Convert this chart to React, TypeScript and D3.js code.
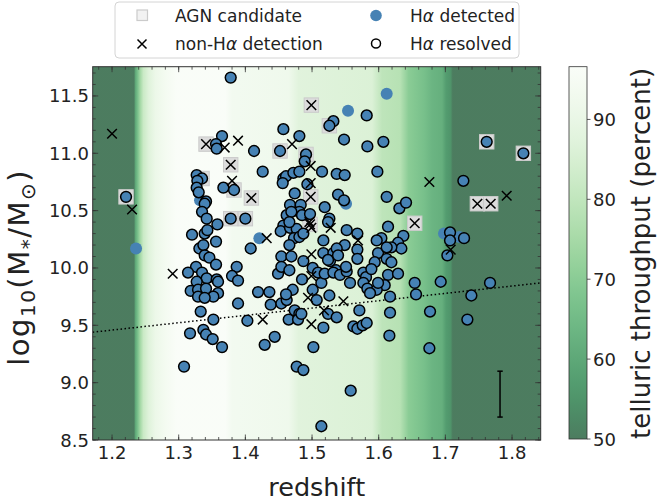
import React from 'react';
import * as d3 from 'd3';

const W = 658;
const H = 503;
const box = { left: 92.7, right: 540.7, top: 66.7, bottom: 440 };
const FONT = 'DejaVu Sans';

// telluric throughput (percent) across the redshift window
const telluricZ = [1.171, 1.233, 1.235, 1.238, 1.242, 1.247, 1.255, 1.265, 1.28, 1.297, 1.37, 1.38, 1.465, 1.48, 1.59, 1.605, 1.632, 1.645, 1.668, 1.68, 1.695, 1.701, 1.708, 1.711, 1.843];
const telluricPct = [45, 47, 60, 66, 74, 82, 87, 91, 94, 96.5, 96.5, 93.5, 92, 87.5, 86, 79.5, 78, 70, 66.5, 63.5, 62, 57, 55, 45, 45];
const cbarTicks = [50, 60, 70, 80, 90];

// H-alpha resolved galaxies: [redshift, log M*]
const resolved: [number, number][] = [
  [1.221, 10.62], [1.378, 11.66], [1.532, 11.28], [1.526, 11.24], [1.457, 11.21], [1.481, 11.15], [1.365, 11.15], [1.356, 11.08],
  [1.357, 11.04], [1.413, 11.02], [1.452, 11.02], [1.491, 10.99], [1.489, 10.93], [1.515, 10.84], [1.537, 10.82], [1.549, 10.81],
  [1.426, 10.84], [1.327, 10.81], [1.335, 10.78], [1.328, 10.76], [1.327, 10.7], [1.33, 10.66], [1.367, 10.7], [1.383, 10.68],
  [1.341, 10.58], [1.339, 10.56], [1.457, 10.78], [1.461, 10.8], [1.472, 10.83], [1.481, 10.84], [1.456, 10.74], [1.493, 10.73],
  [1.474, 10.65], [1.539, 10.64], [1.548, 10.59], [1.467, 10.55], [1.483, 10.55], [1.481, 10.49], [1.519, 10.53], [1.335, 10.49],
  [1.342, 10.43], [1.358, 10.38], [1.378, 10.43], [1.4, 10.43], [1.462, 10.46], [1.469, 10.49], [1.485, 10.46], [1.497, 10.47],
  [1.526, 10.43], [1.524, 10.4], [1.457, 10.37], [1.453, 10.32], [1.467, 10.35], [1.477, 10.34], [1.473, 10.26], [1.481, 10.27],
  [1.32, 10.29], [1.339, 10.3], [1.343, 10.33], [1.356, 10.23], [1.408, 10.17], [1.331, 10.17], [1.337, 10.2], [1.466, 10.2],
  [1.517, 10.24], [1.517, 10.13], [1.532, 10.13], [1.454, 10.1], [1.469, 10.1], [1.339, 10.11], [1.346, 10.09], [1.356, 10.03],
  [1.326, 10.01], [1.314, 9.96], [1.335, 9.96], [1.387, 10.01], [1.38, 9.93], [1.389, 9.89], [1.342, 9.91], [1.357, 9.9],
  [1.359, 9.88], [1.327, 9.88], [1.318, 9.8], [1.329, 9.81], [1.341, 9.82], [1.359, 9.78], [1.352, 9.75], [1.329, 9.75],
  [1.339, 9.74], [1.419, 9.79], [1.436, 9.79], [1.389, 9.69], [1.438, 9.68], [1.333, 9.62], [1.352, 9.55], [1.403, 9.54],
  [1.444, 9.4], [1.317, 9.43], [1.337, 9.46], [1.341, 9.42], [1.351, 9.38], [1.365, 9.31], [1.429, 9.33], [1.308, 9.14],
  [1.454, 9.69], [1.462, 9.72], [1.465, 9.55], [1.474, 9.63], [1.481, 9.6], [1.479, 9.55], [1.484, 9.6], [1.477, 9.14],
  [1.487, 9.11], [1.502, 9.31], [1.517, 9.48], [1.524, 9.6], [1.537, 9.57], [1.507, 9.72], [1.526, 9.76], [1.501, 9.81],
  [1.514, 8.62], [1.449, 9.95], [1.454, 10.01], [1.466, 9.98], [1.487, 10.06], [1.501, 10.0], [1.527, 10.06], [1.536, 9.98],
  [1.485, 9.9], [1.471, 9.81], [1.461, 9.77], [1.514, 9.87], [1.548, 11.12], [1.583, 11.06], [1.466, 10.4], [1.487, 10.3],
  [1.552, 10.33], [1.568, 10.3], [1.549, 10.2], [1.537, 10.17], [1.568, 10.16], [1.568, 10.08], [1.524, 10.07], [1.539, 10.11],
  [1.509, 9.96], [1.519, 9.95], [1.532, 9.96], [1.542, 9.94], [1.552, 9.97], [1.551, 10.01], [1.557, 9.87], [1.577, 9.96],
  [1.581, 9.92], [1.577, 9.87], [1.583, 9.82], [1.571, 9.63], [1.562, 9.49], [1.568, 9.47], [1.576, 9.5], [1.582, 9.52],
  [1.582, 11.33], [1.607, 11.1], [1.598, 10.84], [1.612, 10.62], [1.631, 10.52], [1.641, 10.57], [1.614, 10.36], [1.637, 10.28],
  [1.629, 10.22], [1.634, 10.17], [1.619, 10.18], [1.604, 10.26], [1.597, 10.24], [1.599, 10.13], [1.612, 10.18], [1.594, 10.05],
  [1.589, 9.99], [1.612, 10.08], [1.619, 10.05], [1.614, 9.94], [1.629, 9.95], [1.609, 9.85], [1.597, 9.81], [1.587, 9.78],
  [1.599, 9.87], [1.617, 9.75], [1.654, 9.87], [1.656, 9.77], [1.693, 9.88], [1.677, 9.62], [1.617, 9.61], [1.616, 9.41],
  [1.676, 9.3], [1.762, 11.1], [1.817, 11.0], [1.727, 10.76], [1.707, 10.31], [1.707, 10.24], [1.728, 10.26], [1.703, 10.11],
  [1.767, 9.87], [1.739, 9.76], [1.733, 9.55], [1.558, 8.93],
];

// H-alpha detected but not resolved
const detected: [number, number][] = [
  [1.236, 10.17], [1.332, 10.59], [1.421, 10.26], [1.551, 10.56], [1.612, 11.52], [1.554, 11.37], [1.698, 10.3], [1.721, 10.27],
];

// no H-alpha detection
const nonDetected: [number, number][] = [
  [1.2, 11.17], [1.23, 10.51], [1.499, 11.42], [1.341, 11.08], [1.369, 11.05], [1.389, 11.11], [1.47, 11.08], [1.378, 10.9],
  [1.498, 10.89], [1.38, 10.76], [1.409, 10.61], [1.498, 10.74], [1.498, 10.62], [1.497, 10.38], [1.499, 10.35], [1.496, 10.4],
  [1.528, 10.35], [1.432, 10.26], [1.499, 10.12], [1.291, 9.95], [1.426, 9.55], [1.499, 9.51], [1.518, 9.63], [1.494, 9.74],
  [1.499, 9.93], [1.569, 10.24], [1.547, 9.71], [1.676, 10.75], [1.654, 10.39], [1.792, 10.63], [1.748, 10.56], [1.768, 10.56],
  [1.708, 10.16],
];

// AGN candidates
const agn: [number, number][] = [
  [1.221, 10.62], [1.526, 11.24], [1.452, 11.02], [1.491, 10.99], [1.335, 10.78], [1.383, 10.68], [1.378, 10.43], [1.4, 10.43],
  [1.762, 11.1], [1.817, 11.0], [1.499, 11.42], [1.341, 11.08], [1.378, 10.9], [1.409, 10.61], [1.498, 10.62], [1.497, 10.38],
  [1.654, 10.39], [1.748, 10.56], [1.768, 10.56],
];

// mass completeness line and typical error bar
const limitZ = [1.171, 1.843];
const limitM = [9.44, 9.87];
const errZ = 1.782;
const errM = 8.9;
const errSize = 0.2;

const BLUE = '#4682b4';
const GRAY_FILL = '#dcdcdc';
const GRAY_EDGE = '#cbcbcb';
const AXIS = '#333333';
const INK = '#222222';

const x = d3.scaleLinear().domain([1.171, 1.843]).range([box.left, box.right]);
const y = d3.scaleLinear().domain([8.5, 11.755]).range([box.bottom, box.top]);

const vmin = 50;
const vmax = 96.6;
const cmap = (v: number) => d3.interpolateGreens(Math.max(0, Math.min(1, (vmax - v) / (vmax - vmin))));
const cbar = { left: 569, right: 587 };
const cy = d3.scaleLinear().domain([vmin, vmax]).range([box.bottom - 1, box.top]);

const cross = (cx: number, cyy: number, s: number) => `M${cx - s},${cyy - s}L${cx + s},${cyy + s}M${cx - s},${cyy + s}L${cx + s},${cyy - s}`;

export default function App() {
  const xMajor = d3.range(1.2, 1.8001, 0.1);
  const xMinor = d3.range(1.18, 1.8431, 0.02);
  const yMajor = d3.range(8.5, 11.5001, 0.5);
  const yMinor = d3.range(8.5, 11.7501, 0.1);
  const pw = box.right - box.left;
  const ph = box.bottom - box.top;
  const midX = (box.left + box.right) / 2;
  const midY = (box.top + box.bottom) / 2;
  const limitLine = d3.line<number>().x((d) => x(d)).y((d, i) => y(limitM[i]))(limitZ) || '';

  return (
    <svg width={W} height={H} style={{ position: 'absolute', left: 0, top: 0, background: '#fff' }} fontFamily={FONT}>
      <defs>
        <linearGradient id="tell" gradientUnits="userSpaceOnUse" x1={box.left} x2={box.right} y1={0} y2={0}>
          {telluricZ.map((z, i) => (
            <stop key={i} offset={(x(z) - box.left) / pw} stopColor={cmap(telluricPct[i])} stopOpacity={0.7} />
          ))}
        </linearGradient>
        <linearGradient id="cbar" x1={0} x2={0} y1={1} y2={0}>
          {d3.range(0, 1.0001, 0.05).map((t) => (
            <stop key={t} offset={t} stopColor={cmap(vmin + t * (vmax - vmin))} stopOpacity={0.7} />
          ))}
        </linearGradient>
        <clipPath id="plot">
          <rect x={box.left} y={box.top} width={pw} height={ph} />
        </clipPath>
      </defs>

      <rect x={box.left} y={box.top} width={pw} height={ph} fill="#fff" />
      <rect x={box.left} y={box.top} width={pw} height={ph} fill="url(#tell)" />

      <g clipPath="url(#plot)">
        {agn.map(([z, m], i) => (
          <rect key={'a' + i} x={x(z) - 7.2} y={y(m) - 7.2} width={14.4} height={14.4} fill={GRAY_FILL} stroke={GRAY_EDGE} strokeWidth={1} />
        ))}
        <path d={limitLine} fill="none" stroke="#000" strokeWidth={1.5} strokeDasharray="1.5 2.5" />
        {detected.map(([z, m], i) => (
          <circle key={'d' + i} cx={x(z)} cy={y(m)} r={6} fill={BLUE} />
        ))}
        {resolved.map(([z, m], i) => (
          <circle key={'r' + i} cx={x(z)} cy={y(m)} r={5.4} fill={BLUE} stroke="#000" strokeWidth={1.5} />
        ))}
        {nonDetected.map(([z, m], i) => (
          <path key={'x' + i} d={cross(x(z), y(m), 4.8)} stroke="#000" strokeWidth={1.5} fill="none" />
        ))}
        <g stroke="#000" strokeWidth={1.5}>
          <line x1={x(errZ)} x2={x(errZ)} y1={y(errM - errSize)} y2={y(errM + errSize)} />
          <line x1={x(errZ) - 2.7} x2={x(errZ) + 2.7} y1={y(errM - errSize)} y2={y(errM - errSize)} />
          <line x1={x(errZ) - 2.7} x2={x(errZ) + 2.7} y1={y(errM + errSize)} y2={y(errM + errSize)} />
        </g>
      </g>

      {/* ticks, pointing inward on all four sides */}
      <g stroke={AXIS} strokeWidth={0.8}>
        {xMinor.map((t, i) => (
          <g key={'xm' + i}>
            <line x1={x(t)} x2={x(t)} y1={box.bottom} y2={box.bottom - 3} />
            <line x1={x(t)} x2={x(t)} y1={box.top} y2={box.top + 3} />
          </g>
        ))}
        {xMajor.map((t, i) => (
          <g key={'xM' + i}>
            <line x1={x(t)} x2={x(t)} y1={box.bottom} y2={box.bottom - 5.5} />
            <line x1={x(t)} x2={x(t)} y1={box.top} y2={box.top + 5.5} />
          </g>
        ))}
        {yMinor.map((t, i) => (
          <g key={'ym' + i}>
            <line x1={box.left} x2={box.left + 3} y1={y(t)} y2={y(t)} />
            <line x1={box.right} x2={box.right - 3} y1={y(t)} y2={y(t)} />
          </g>
        ))}
        {yMajor.map((t, i) => (
          <g key={'yM' + i}>
            <line x1={box.left} x2={box.left + 5.5} y1={y(t)} y2={y(t)} />
            <line x1={box.right} x2={box.right - 5.5} y1={y(t)} y2={y(t)} />
          </g>
        ))}
      </g>
      <rect x={box.left} y={box.top} width={pw} height={ph} fill="none" stroke={AXIS} strokeWidth={1} />

      <g fontSize={18} fill={INK}>
        {xMajor.map((t, i) => (
          <text key={'xl' + i} x={x(t)} y={459} textAnchor="middle">{t.toFixed(1)}</text>
        ))}
        {yMajor.map((t, i) => (
          <text key={'yl' + i} x={89} y={y(t) + 6.5} textAnchor="end">{t.toFixed(1)}</text>
        ))}
      </g>

      <text x={midX} y={496} textAnchor="middle" fontSize={25.5} fill={INK}>redshift</text>
      <text transform={`translate(29,${midY + 14}) rotate(-90)`} textAnchor="middle" fontSize={29} fill={INK} letterSpacing={1.5}>
        log<tspan fontSize={20} dy={6}>10</tspan>
        <tspan dy={-6}>(M</tspan>
        <tspan fontSize={20} dy={6}>*</tspan>
        <tspan dy={-6}>/M</tspan>
        <tspan fontSize={20} dy={6}>⊙</tspan>
        <tspan dy={-6}>)</tspan>
      </text>

      {/* colour bar */}
      <rect x={cbar.left} y={box.top} width={cbar.right - cbar.left} height={box.bottom - 1 - box.top} fill="url(#cbar)" stroke={AXIS} strokeWidth={0.8} />
      <g fontSize={18} fill={INK}>
        {cbarTicks.map((t) => (
          <g key={'c' + t}>
            <line x1={cbar.right} x2={cbar.right + 3.5} y1={cy(t)} y2={cy(t)} stroke={AXIS} strokeWidth={0.8} />
            <text x={593} y={cy(t) + 6.5}>{t}</text>
          </g>
        ))}
      </g>
      <text transform={`translate(650,${midY}) rotate(-90)`} textAnchor="middle" fontSize={26} fill={INK}>
        telluric throughput (percent)
      </text>

      {/* legend */}
      <rect x={115} y={2} width={404} height={56} rx={4} fill="#fff" fillOpacity={0.85} stroke="#d4d4d4" strokeWidth={1} />
      <g fontSize={17} fill={INK}>
        <rect x={137} y={10} width={10.5} height={10.5} fill="#f2f2f2" stroke={GRAY_EDGE} strokeWidth={1.2} />
        <text x={175} y={21.5}>AGN candidate</text>
        <path d={cross(142, 44, 4.5)} stroke="#000" strokeWidth={1.5} />
        <text x={175} y={49.5}>non-H<tspan fontStyle="italic">α</tspan> detection</text>
        <circle cx={376} cy={15.5} r={5.8} fill={BLUE} />
        <text x={410} y={21.5}>H<tspan fontStyle="italic">α</tspan> detected</text>
        <circle cx={376} cy={43.5} r={4.5} fill="none" stroke="#000" strokeWidth={1.5} />
        <text x={410} y={49.5}>H<tspan fontStyle="italic">α</tspan> resolved</text>
      </g>
    </svg>
  );
}
